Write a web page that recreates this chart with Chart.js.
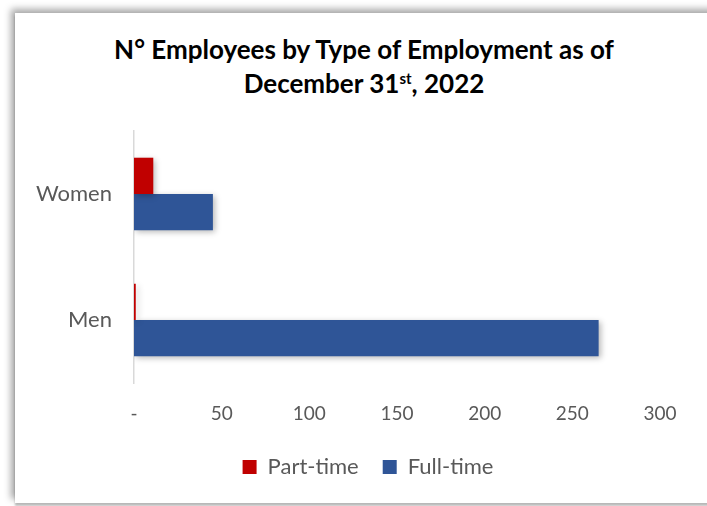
<!DOCTYPE html>
<html>
<head>
<meta charset="utf-8">
<script src="https://cdn.jsdelivr.net/npm/chart.js@4/dist/chart.umd.min.js"></script>
<style>
  html, body { margin:0; padding:0; background:#fff; overflow:hidden; }
  #wrap { position:relative; width:707px; height:506px; }
  #frame { position:absolute; left:15px; top:13px; width:720px; height:490px; background:#fff;
           box-shadow: -4px -4px 7px rgba(0,0,0,0.35), 0 3px 2px rgba(0,0,0,0.25); }
  #title { position:absolute; left:0; top:32px; width:728px; text-align:center;
           font-family: Lato, "Open Sans", sans-serif; font-weight:bold; font-size:26px; line-height:34px; color:#000; }
  #title sup { font-size:15px; line-height:0; vertical-align: 9px; }
  canvas { position:absolute; left:0; top:0; }
</style>
</head>
<body>
<div id="wrap">
  <div id="frame"></div>
  <div id="title">N° Employees by Type of Employment as of<br>December 31<sup>st</sup>, 2022</div>
  <canvas id="c" width="707" height="506"></canvas>
</div>
<script>
const categories = ["Women", "Men"];
const seriesNames = ["Part-time", "Full-time"];
const partTime = [11, 1];
const fullTime = [45, 265];
const xTicks = [0, 50, 100, 150, 200, 250, 300];

const shadowPlugin = {
  id: 'barShadow',
  beforeDatasetsDraw(chart) {
    const ctx = chart.ctx;
    ctx.save();
    ctx.shadowColor = 'rgba(0,0,0,0.28)';
    ctx.shadowBlur = 6;
    ctx.shadowOffsetX = 2;
    ctx.shadowOffsetY = 2;
  },
  afterDatasetsDraw(chart) { chart.ctx.restore(); }
};

const legendShift = {
  id: 'legendShift',
  afterLayout(chart) {
    const lg = chart.legend;
    if (!lg) return;
    const shift = 368 - (lg.left + lg.right) / 2;
    lg.left += shift;
    lg.right += shift;
  }
};

new Chart(document.getElementById('c'), {
  type: 'bar',
  data: {
    labels: categories,
    datasets: [
      { label: seriesNames[0], data: partTime, backgroundColor: '#C00000', categoryPercentage: 0.576, barPercentage: 1.0 },
      { label: seriesNames[1], data: fullTime, backgroundColor: '#2F5597', categoryPercentage: 0.576, barPercentage: 1.0 }
    ]
  },
  options: {
    indexAxis: 'y',
    responsive: false,
    animation: false,
    layout: { padding: { top: 131, left: 16, right: 47, bottom: 18 } },
    scales: {
      x: {
        min: 0, max: 300,
        afterBuildTicks: (s) => { s.ticks = xTicks.map(v => ({ value: v })); },
        afterFit: (s) => { s.height = 49; },
        grid: { display: false, drawTicks: false },
        border: { display: false },
        ticks: {
          padding: 19,
          color: '#595959',
          font: { family: 'Lato, "Open Sans", sans-serif', size: 19 },
          callback: (v) => v === 0 ? '-' : v
        }
      },
      y: {
        afterFit: (s) => { s.width = 118; },
        grid: { display: false, drawTicks: false },
        border: { display: true, color: '#D9D9D9', width: 1.5 },
        ticks: {
          padding: 22,
          color: '#595959',
          font: { family: 'Lato, "Open Sans", sans-serif', size: 22 }
        }
      }
    },
    plugins: {
      title: { display: false },
      tooltip: { enabled: false },
      legend: {
        position: 'bottom',
        labels: {
          boxWidth: 14, boxHeight: 14, padding: 24,
          color: '#595959',
          font: { family: 'Lato, "Open Sans", sans-serif', size: 22 }
        }
      }
    }
  },
  plugins: [shadowPlugin, legendShift]
});
</script>
</body>
</html>
